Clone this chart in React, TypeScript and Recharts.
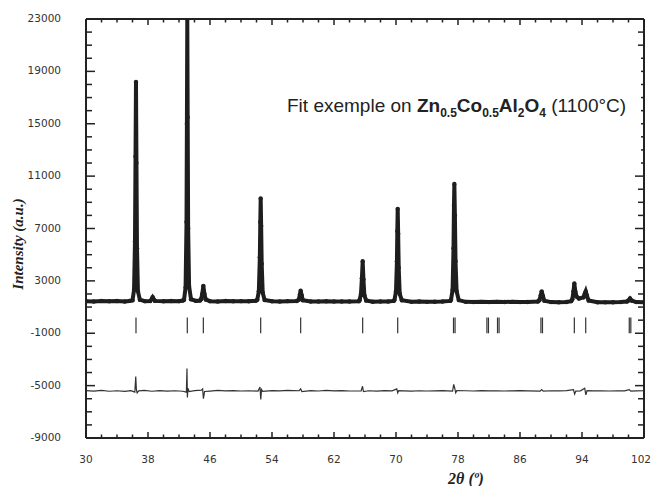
import React from "react";
import {
  ComposedChart,
  Line,
  XAxis,
  YAxis,
  ReferenceLine,
} from "recharts";

// observed pattern, [2theta, counts]
const observed: [number, number][] = [
  [30, 1450], [31, 1420], [32, 1470], [33, 1440], [34, 1460], [35, 1430], [35.6, 1470],
  [36.0, 1520], [36.2, 2300], [36.32, 6000], [36.39, 12500], [36.45, 18200], [36.51, 12000], [36.58, 5500], [36.7, 2200], [36.95, 1560],
  [37.6, 1450], [38.3, 1460], [38.6, 1750], [38.9, 1470],
  [40, 1440], [41, 1460], [42, 1450], [42.5, 1500],
  [42.65, 1560], [42.85, 2500], [42.97, 7500], [43.02, 15000], [43.07, 23000], [43.12, 15500], [43.18, 7000], [43.3, 2600], [43.55, 1600],
  [44.2, 1470], [44.7, 1500],
  [44.85, 1600], [45.0, 2000], [45.14, 2620], [45.28, 2000], [45.45, 1580],
  [46, 1450], [47, 1430], [48, 1460], [49, 1440], [50, 1450], [51, 1440], [51.9, 1480],
  [52.1, 1550], [52.3, 2200], [52.43, 4800], [52.49, 7500], [52.54, 9300], [52.6, 7200], [52.67, 4300], [52.8, 2100], [53.05, 1540],
  [54, 1440], [55, 1420], [56, 1450], [57.2, 1460],
  [57.45, 1560], [57.6, 1950], [57.7, 2250], [57.82, 1900], [57.98, 1520],
  [59, 1430], [60, 1420], [61, 1440], [62, 1420], [63, 1430], [64, 1420], [65.2, 1450],
  [65.3, 1520], [65.48, 2000], [65.6, 3200], [65.7, 4500], [65.8, 3100], [65.92, 1900], [66.15, 1500],
  [67, 1410], [68, 1430], [69, 1420], [69.7, 1470],
  [69.8, 1530], [70.0, 2200], [70.12, 4500], [70.17, 6800], [70.22, 8500], [70.28, 6600], [70.35, 4000], [70.48, 2000], [70.75, 1520],
  [72, 1400], [73, 1420], [74, 1400], [75, 1410], [76, 1420], [77, 1470],
  [77.1, 1560], [77.3, 2300], [77.42, 5500], [77.48, 8800], [77.53, 10400], [77.6, 8000], [77.68, 4500], [77.82, 2200], [78.1, 1530],
  [79, 1400], [80, 1390], [81, 1400], [82, 1380], [83, 1400], [84, 1390], [85, 1400], [86, 1380], [87, 1390], [88.3, 1420],
  [88.5, 1520], [88.68, 1900], [88.8, 2200], [88.95, 1850], [89.15, 1480],
  [90, 1380], [91, 1370], [92, 1390], [92.6, 1450],
  [92.75, 1600], [92.9, 2200], [93.01, 2800], [93.15, 2150], [93.3, 1800], [93.6, 1650],
  [94.2, 1750], [94.35, 2000], [94.48, 2200], [94.62, 1900], [94.85, 1500],
  [96, 1370], [97, 1360], [98, 1370], [99, 1380], [99.8, 1420],
  [100.0, 1500], [100.2, 1650], [100.45, 1480], [101, 1380], [102, 1360],
];

// observed - calculated
const difference: [number, number][] = [
  [30, -5380], [31, -5420], [32, -5360], [33, -5430], [34, -5390], [35, -5440], [35.8, -5380],
  [36.3, -5500], [36.42, -4300], [36.5, -5300], [36.6, -5550], [36.8, -5400],
  [37.5, -5370], [38.5, -5430], [39.5, -5380], [40.5, -5420], [41.5, -5390], [42.5, -5430],
  [42.95, -5500], [43.03, -3700], [43.08, -5900], [43.15, -5200], [43.3, -5450],
  [44, -5380], [44.9, -5350], [45.05, -5250], [45.15, -6000], [45.3, -5450],
  [46, -5420], [47, -5370], [48, -5400], [49, -5380], [50, -5410], [51, -5390], [52.2, -5420],
  [52.45, -5100], [52.55, -6050], [52.65, -5300], [52.8, -5430],
  [54, -5380], [55, -5400], [56, -5370], [57.5, -5390], [57.7, -5250], [57.85, -5450],
  [59, -5380], [60, -5410], [61, -5370], [62, -5400], [63, -5380], [64, -5410], [65.5, -5400], [65.68, -5050], [65.8, -5450],
  [66.5, -5390], [67.5, -5420], [68.5, -5380], [69.5, -5400], [70.1, -5250], [70.22, -5550], [70.35, -5380],
  [71, -5400], [72, -5420], [73, -5390], [74, -5410], [75, -5400], [76, -5380], [77.3, -5420], [77.45, -4900], [77.58, -5200], [77.7, -5550], [77.85, -5380],
  [79, -5390], [80, -5410], [81, -5380], [82, -5400], [83, -5390], [84, -5410], [85, -5400], [86, -5380], [87, -5400], [88.6, -5420], [88.8, -5300], [89, -5420],
  [90, -5390], [91, -5400], [92, -5380], [92.9, -5300], [93.05, -5650], [93.2, -5420], [93.8, -5400], [94.35, -5200], [94.5, -5700], [94.65, -5380],
  [95.5, -5400], [96.5, -5390], [97.5, -5410], [98.5, -5390], [99.5, -5400], [100.1, -5300], [100.3, -5420], [101, -5400], [102, -5390],
];

// Bragg reflection positions
const braggPositions = [
  36.45, 43.07, 45.14, 52.54, 57.7, 65.7, 70.22, 77.42, 77.62, 81.73, 81.93,
  83.1, 83.3, 88.7, 88.9, 93.01, 94.48, 100.1, 100.3,
];
const braggTop = 200;
const braggBottom = -1000;

const xTicks = [
  30, 32, 34, 36, 38, 40, 42, 44, 46, 48, 50, 52, 54, 56, 58, 60, 62, 64, 66,
  68, 70, 72, 74, 76, 78, 80, 82, 84, 86, 88, 90, 92, 94, 96, 98, 100, 102,
];
const xLabels = [30, 38, 46, 54, 62, 70, 78, 86, 94, 102];

const yTicks = [
  -9000, -8000, -7000, -6000, -5000, -4000, -3000, -2000, -1000, 0, 1000, 2000,
  3000, 4000, 5000, 6000, 7000, 8000, 9000, 10000, 11000, 12000, 13000, 14000,
  15000, 16000, 17000, 18000, 19000, 20000, 21000, 22000, 23000,
];
const yLabels = [-9000, -5000, -1000, 3000, 7000, 11000, 15000, 19000, 23000];

const obsData = observed.map(([x, y]) => ({ x, y }));
const diffData = difference.map(([x, y]) => ({ x, y }));

const ink = "#222";
const tickFont = { fontFamily: "DejaVu Sans", fontSize: 10.5, fill: "#333" };

function makeTick(side: "bottom" | "top" | "left" | "right") {
  return (props: any) => {
    const { x, y, payload } = props;
    const v = payload.value;
    const isX = side === "bottom" || side === "top";
    const major = isX ? xLabels.includes(v) : yLabels.includes(v);
    const len = isX ? (major ? 6 : 3.5) : major ? 9 : 6;
    if (side === "bottom") {
      const last = v === xLabels[xLabels.length - 1];
      return (
        <g>
          <line x1={x} x2={x} y1={y} y2={y - len} stroke={ink} strokeWidth={1.5} />
          {major && (
            <text
              x={last ? x + 7 : x}
              y={y + 21}
              textAnchor={last ? "end" : "middle"}
              dominantBaseline="central"
              {...tickFont}
            >
              {v}
            </text>
          )}
        </g>
      );
    }
    if (side === "top") {
      return <line x1={x} x2={x} y1={y} y2={y + len} stroke={ink} strokeWidth={1.5} />;
    }
    if (side === "left") {
      return (
        <g>
          <line x1={x} x2={x + len} y1={y} y2={y} stroke={ink} strokeWidth={1.5} />
          {major && (
            <text x={x - 25} y={y - 1} textAnchor="end" dominantBaseline="central" {...tickFont}>
              {v}
            </text>
          )}
        </g>
      );
    }
    return <line x1={x} x2={x - len} y1={y} y2={y} stroke={ink} strokeWidth={1.5} />;
  };
}

export default function App() {
  return (
    <div style={{ position: "absolute", left: 0, top: 0, width: 652, height: 486, background: "#fff" }}>
      <ComposedChart
        width={652}
        height={486}
        margin={{ top: 18, right: 7, bottom: 0, left: 0 }}
      >
        <XAxis
          dataKey="x"
          type="number"
          domain={[30, 102]}
          ticks={xTicks}
          interval={0}
          allowDataOverflow
          height={48}
          tickSize={0}
          tickMargin={0}
          tickLine={false}
          tick={makeTick("bottom")}
          axisLine={{ stroke: ink, strokeWidth: 2 }}
        />
        <XAxis
          xAxisId="top"
          orientation="top"
          dataKey="x"
          type="number"
          domain={[30, 102]}
          ticks={xTicks}
          interval={0}
          allowDataOverflow
          height={1}
          tickSize={0}
          tickMargin={0}
          tickLine={false}
          tick={makeTick("top")}
          axisLine={{ stroke: ink, strokeWidth: 2 }}
        />
        <YAxis
          type="number"
          domain={[-9000, 23000]}
          ticks={yTicks}
          interval={0}
          allowDataOverflow
          width={86}
          tickSize={0}
          tickMargin={0}
          tickLine={false}
          tick={makeTick("left")}
          axisLine={{ stroke: ink, strokeWidth: 2 }}
        />
        <YAxis
          yAxisId="right"
          orientation="right"
          type="number"
          domain={[-9000, 23000]}
          ticks={yTicks}
          interval={0}
          allowDataOverflow
          width={1}
          tickSize={0}
          tickMargin={0}
          tickLine={false}
          tick={makeTick("right")}
          axisLine={{ stroke: ink, strokeWidth: 2 }}
        />

        {braggPositions.map((p) => (
          <ReferenceLine
            key={p}
            segment={[
              { x: p, y: braggTop },
              { x: p, y: braggBottom },
            ]}
            stroke="#333"
            strokeWidth={1.2}
          />
        ))}

        <Line
          data={diffData}
          dataKey="y"
          type="linear"
          stroke="#333"
          strokeWidth={1.2}
          dot={false}
          isAnimationActive={false}
        />
        <Line
          data={obsData}
          dataKey="y"
          type="linear"
          stroke="#1e1e1e"
          strokeWidth={4}
          dot={{ r: 2.2, fill: "#1e1e1e", stroke: "none" }}
          isAnimationActive={false}
        />
      </ComposedChart>

      {/* white patch behind the caption, hides the right-hand ticks there */}
      <div
        style={{
          position: "absolute",
          left: 280,
          top: 52,
          width: 361,
          height: 113,
          background: "#fff",
        }}
      />
      <div
        style={{
          position: "absolute",
          left: 287,
          top: 95,
          fontFamily: "Liberation Sans",
          fontSize: 19,
          lineHeight: "22px",
          color: "#222",
          whiteSpace: "nowrap",
        }}
      >
        Fit exemple on{" "}
        <b>
          Zn<sub style={{ fontSize: 12 }}>0.5</sub>Co<sub style={{ fontSize: 12 }}>0.5</sub>Al
          <sub style={{ fontSize: 12 }}>2</sub>O<sub style={{ fontSize: 12 }}>4</sub>
        </b>{" "}
        (1100°C)
      </div>

      <div
        style={{
          position: "absolute",
          left: 18,
          top: 244,
          transform: "translate(-50%, -50%) rotate(-90deg)",
          fontFamily: "Liberation Serif",
          fontWeight: "bold",
          fontStyle: "italic",
          fontSize: 15,
          color: "#222",
          whiteSpace: "nowrap",
        }}
      >
        Intensity (a.u.)
      </div>
      <div
        style={{
          position: "absolute",
          left: 448,
          top: 472,
          width: 36,
          height: 14,
          textAlign: "center",
          lineHeight: "14px",
          fontFamily: "Liberation Serif",
          fontWeight: "bold",
          fontStyle: "italic",
          fontSize: 16,
          color: "#222",
          whiteSpace: "nowrap",
        }}
      >
        2θ (º)
      </div>
    </div>
  );
}
